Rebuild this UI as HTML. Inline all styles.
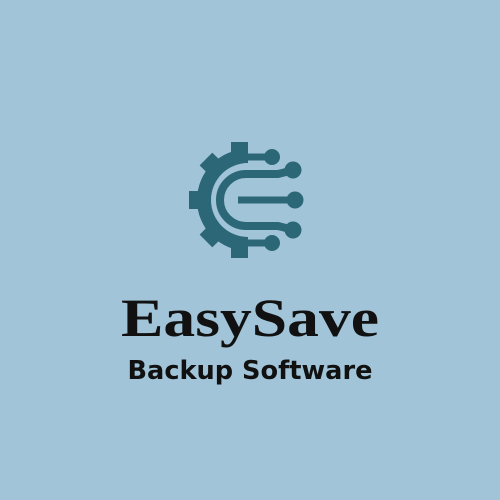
<!DOCTYPE html>
<html><head><style>
html,body{margin:0;padding:0;width:500px;height:500px;background:#a1c4d8;overflow:hidden}
</style></head><body>
<svg width="500" height="500" viewBox="0 0 500 500" xmlns="http://www.w3.org/2000/svg">
<rect width="500" height="500" fill="#a1c4d8"/>
<g fill="#2c6778" stroke="none">
  <path fill-rule="evenodd" d="M248,149 A51,51 0 0 0 248,251 L248,237 A37,37 0 0 1 248,163 Z"/>
  <rect x="231" y="142" width="17" height="14"/>
  <rect x="231" y="244" width="17" height="14"/>
  <g transform="rotate(-45 247 200)"><rect x="238" y="142" width="18" height="14"/></g>
  <g transform="rotate(-90 247 200)"><rect x="238" y="142" width="18" height="14"/></g>
  <g transform="rotate(-135 247 200)"><rect x="238" y="142" width="18" height="14"/></g>
  <circle cx="272" cy="157" r="8"/>
  <circle cx="293" cy="170" r="8.5"/>
  <circle cx="295" cy="200" r="8.5"/>
  <circle cx="293" cy="230" r="8.5"/>
  <circle cx="272" cy="243" r="8"/>
</g>
<g fill="none" stroke="#2c6778" stroke-width="7">
  <line x1="246" y1="157" x2="270" y2="157"/>
  <line x1="246" y1="243" x2="270" y2="243"/>
  <path d="M290,171 L278,174 L246,174 A26,26 0 0 0 246,226 L278,226 L290,229" stroke-width="8"/>
  <line x1="238" y1="200" x2="294" y2="200"/>
</g>
<text x="250" y="336" text-anchor="middle" font-family="Liberation Serif, serif" font-weight="bold" font-size="54" fill="#111" textLength="258" lengthAdjust="spacingAndGlyphs">EasySave</text>
<text x="250" y="379" text-anchor="middle" font-family="DejaVu Sans, sans-serif" font-weight="bold" font-size="26" fill="#111" textLength="245" lengthAdjust="spacingAndGlyphs">Backup Software</text>
</svg>
</body></html>
